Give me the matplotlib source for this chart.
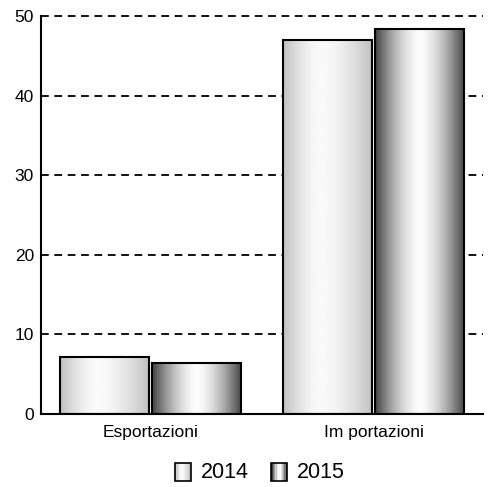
import numpy as np
import matplotlib
matplotlib.use("Agg")
import matplotlib.pyplot as plt
from matplotlib.patches import Rectangle
from matplotlib.legend_handler import HandlerBase

plt.rcParams['font.family'] = ['Liberation Sans', 'DejaVu Sans']

categories = ["Esportazioni", "Im portazioni"]
series_names = ["2014", "2015"]
values_2014 = [7.2, 47.0]
values_2015 = [6.4, 48.4]
yticks = [0, 10, 20, 30, 40, 50]

def profile(edge, peak, center, n=200):
    t = np.linspace(0, 1, n)
    d = np.where(t < center, (center - t) / center, (t - center) / (1 - center))
    return edge + (peak - edge) * (1 - d ** 1.6)

grad_2014 = profile(0.75, 0.98, 0.42)
grad_2015 = profile(0.26, 0.99, 0.5)
grads = [grad_2014, grad_2015]

fig = plt.figure(figsize=(4.91, 4.87), dpi=100)
ax = fig.add_axes([0.0835, 0.150, 0.900, 0.817])

x = np.arange(len(categories))
width = 0.40
offsets = [-0.207, 0.207]
series = [values_2014, values_2015]

for s, vals in enumerate(series):
    for i, v in enumerate(vals):
        x0 = x[i] + offsets[s] - width / 2
        rect = Rectangle((x0, 0), width, v, facecolor='none', edgecolor='black',
                         linewidth=1.5, zorder=4)
        ax.add_patch(rect)
        img = ax.imshow(grads[s][np.newaxis, :], cmap='gray', vmin=0, vmax=1,
                        extent=[x0, x0 + width, 0, v], aspect='auto',
                        interpolation='bilinear', zorder=3)
        img.set_clip_path(rect)

ax.set_xlim(-0.49, 1.49)
ax.set_ylim(0, 50)
ax.set_xticks(x)
ax.set_xticklabels(categories, fontsize=12.5)
ax.set_yticks(yticks)
ax.set_yticklabels([str(t) for t in yticks], fontsize=12.5)
ax.tick_params(axis='both', length=0)
ax.tick_params(axis='y', pad=5)
ax.tick_params(axis='x', pad=8)

for t in yticks[1:]:
    ax.axhline(t, color='black', linewidth=1.3, linestyle=(0, (4.3, 3.1)), zorder=1,
               clip_on=False)

for sp in ['top', 'right']:
    ax.spines[sp].set_visible(False)
ax.spines['left'].set_linewidth(1.5)
ax.spines['bottom'].set_linewidth(1.5)
ax.spines['left'].set_zorder(5)
ax.spines['bottom'].set_zorder(5)


class GradHandler(HandlerBase):
    def __init__(self, grad):
        super().__init__()
        self.grad = grad

    def create_artists(self, legend, orig_handle, xdescent, ydescent, width, height, fontsize, trans):
        artists = []
        n = 12
        w = height * 1.05
        x0 = -xdescent + (width - w) / 2
        y0 = -ydescent - height * 0.18
        h = height * 1.2
        idx = np.linspace(0, len(self.grad) - 1, n).astype(int)
        for k in range(n):
            c = self.grad[idx[k]]
            r = Rectangle((x0 + k * w / n, y0), w / n + 0.1, h, facecolor=(c, c, c),
                          edgecolor='none', transform=trans)
            artists.append(r)
        outline = Rectangle((x0, y0), w, h, facecolor='none', edgecolor='black',
                            linewidth=1.2, transform=trans)
        artists.append(outline)
        return artists

h1 = Rectangle((0, 0), 1, 1)
h2 = Rectangle((0, 0), 1, 1)
fig.legend([h1, h2], series_names, loc='center', bbox_to_anchor=(0.528, 0.030),
           ncol=2, frameon=False, fontsize=15.5, handlelength=0.85, handletextpad=0.4,
           columnspacing=1.0,
           handler_map={h1: GradHandler(grad_2014), h2: GradHandler(grad_2015)})

fig.savefig("out.png", dpi=100)
